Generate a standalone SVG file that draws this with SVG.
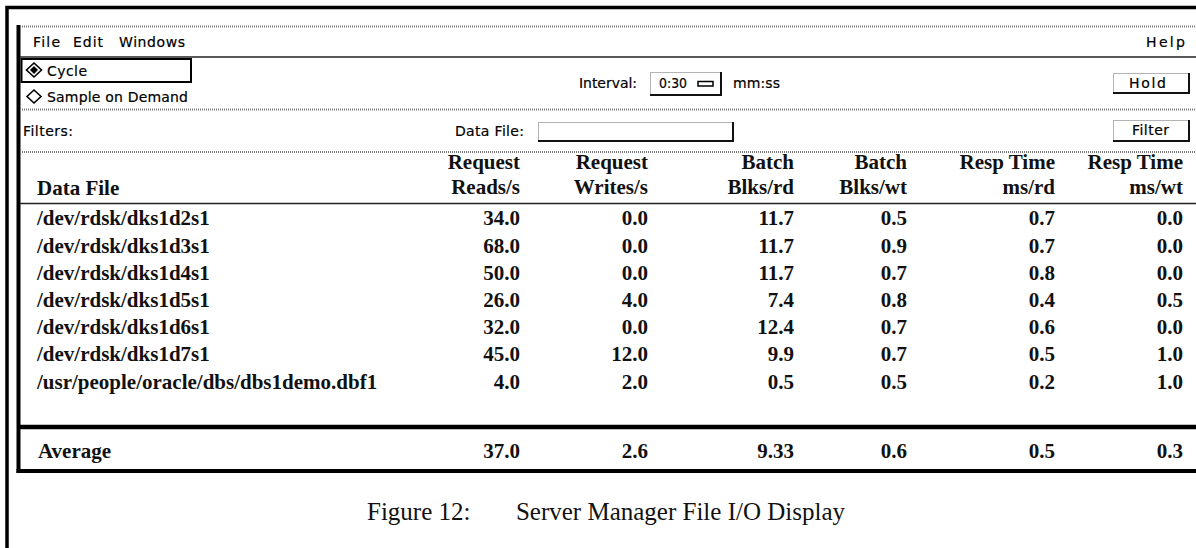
<svg xmlns="http://www.w3.org/2000/svg" width="1196" height="548" viewBox="0 0 1196 548">
  <style>
    .ui{font-family:"DejaVu Sans","Liberation Sans",Arial,sans-serif;font-size:14px;fill:#000;stroke:#000;stroke-width:0.2}
    .tb{font-family:"Liberation Serif","Times New Roman",serif;font-size:21px;font-weight:bold;fill:#111}
    .r{text-anchor:end}
    .cap{font-family:"Liberation Serif","Times New Roman",serif;font-size:25px;fill:#111}
    .dot{stroke:#7a7a7a;stroke-width:2;stroke-dasharray:1 1;fill:none}
    .solid{stroke:#222;stroke-width:1.6;fill:none}
    .btn{fill:#fff;stroke:#666;stroke-width:1;stroke-dasharray:1 1}
    .shade{stroke:#111;stroke-width:2;fill:none}
  </style>

  <rect width="1196" height="548" fill="#fff"/>

  <!-- page frame -->
  <path d="M7 548 V7.5 H1196" fill="none" stroke="#000" stroke-width="3.5"/>

  <!-- window left edge -->
  <line x1="18.5" y1="25" x2="18.5" y2="473" stroke="#000" stroke-width="4"/>

  <!-- menu bar -->
  <g id="menubar">
    <line class="dot" x1="20" y1="26.5" x2="1196" y2="26.5"/>
    <line class="solid" x1="20" y1="57" x2="1196" y2="57"/>
    <text class="ui" x="33" y="47" textLength="27" lengthAdjust="spacing">File</text>
    <text class="ui" x="73" y="47" textLength="30" lengthAdjust="spacing">Edit</text>
    <text class="ui" x="119" y="47" textLength="66" lengthAdjust="spacing">Windows</text>
    <text class="ui" x="1146" y="47" textLength="39" lengthAdjust="spacing">Help</text>
  </g>

  <!-- sampling mode and interval -->
  <g id="controls">
    <rect x="21.5" y="59" width="169.5" height="23" fill="none" stroke="#000" stroke-width="2"/>
    <polygon points="34,63 41.5,70 34,77 26.5,70" fill="#fff" stroke="#000" stroke-width="1.6"/>
    <polygon points="34,66 38,70 34,74 30,70" fill="#000"/>
    <text class="ui" x="47" y="76" textLength="40" lengthAdjust="spacing">Cycle</text>
    <polygon points="34,90 41,96.5 34,103 27,96.5" fill="#fff" stroke="#000" stroke-width="1.6"/>
    <text class="ui" x="47" y="102" textLength="141" lengthAdjust="spacing">Sample on Demand</text>
    <line class="dot" x1="20" y1="109.5" x2="1196" y2="109.5"/>

    <text class="ui" x="579" y="88" textLength="58" lengthAdjust="spacing">Interval:</text>
    <rect class="btn" x="650.5" y="72.5" width="70" height="22"/>
    <path class="shade" d="M721 72 V95 H650"/>
    <text class="ui" x="659" y="88" textLength="28" lengthAdjust="spacingAndGlyphs">0:30</text>
    <rect x="698" y="81.5" width="15" height="4.5" fill="#fff" stroke="#000" stroke-width="1.5"/>
    <text class="ui" x="733" y="88" textLength="47" lengthAdjust="spacing">mm:ss</text>

    <rect class="btn" x="1113.5" y="73.5" width="75" height="19"/>
    <path class="shade" d="M1189 73 V93 H1113"/>
    <text class="ui" x="1129" y="87.5" textLength="37" lengthAdjust="spacing">Hold</text>
  </g>

  <!-- filter row -->
  <g id="filters">
    <text class="ui" x="23" y="136" textLength="50" lengthAdjust="spacing">Filters:</text>
    <text class="ui" x="455" y="136" textLength="69" lengthAdjust="spacing">Data File:</text>
    <rect class="btn" x="538.5" y="122.5" width="194" height="18"/>
    <path class="shade" d="M733 122 V141 H538" stroke-width="1.5"/>
    <rect class="btn" x="1113.5" y="120.5" width="75" height="20"/>
    <path class="shade" d="M1189 120 V141 H1113"/>
    <text class="ui" x="1132" y="135" textLength="37" lengthAdjust="spacing">Filter</text>
    <line class="dot" x1="20" y1="152" x2="1196" y2="152"/>
  </g>

  <!-- data table -->
  <g id="table">
    <g id="header">
      <text class="tb" x="37" y="195">Data File</text>
      <text class="tb r" x="520" y="169">Request</text>
      <text class="tb r" x="520" y="194">Reads/s</text>
      <text class="tb r" x="648" y="169">Request</text>
      <text class="tb r" x="648" y="194">Writes/s</text>
      <text class="tb r" x="794" y="169">Batch</text>
      <text class="tb r" x="794" y="194">Blks/rd</text>
      <text class="tb r" x="907" y="169">Batch</text>
      <text class="tb r" x="907" y="194">Blks/wt</text>
      <text class="tb r" x="1055" y="169">Resp Time</text>
      <text class="tb r" x="1055" y="194">ms/rd</text>
      <text class="tb r" x="1183" y="169">Resp Time</text>
      <text class="tb r" x="1183" y="194">ms/wt</text>
    </g>
    <line class="solid" x1="20" y1="203.5" x2="1196" y2="203.5"/>

    <g id="rows">
      <text class="tb" x="37" y="225">/dev/rdsk/dks1d2s1</text>
      <text class="tb r" x="520" y="225">34.0</text>
      <text class="tb r" x="648" y="225">0.0</text>
      <text class="tb r" x="794" y="225">11.7</text>
      <text class="tb r" x="907" y="225">0.5</text>
      <text class="tb r" x="1055" y="225">0.7</text>
      <text class="tb r" x="1183" y="225">0.0</text>

      <text class="tb" x="37" y="252.5">/dev/rdsk/dks1d3s1</text>
      <text class="tb r" x="520" y="252.5">68.0</text>
      <text class="tb r" x="648" y="252.5">0.0</text>
      <text class="tb r" x="794" y="252.5">11.7</text>
      <text class="tb r" x="907" y="252.5">0.9</text>
      <text class="tb r" x="1055" y="252.5">0.7</text>
      <text class="tb r" x="1183" y="252.5">0.0</text>

      <text class="tb" x="37" y="279.5">/dev/rdsk/dks1d4s1</text>
      <text class="tb r" x="520" y="279.5">50.0</text>
      <text class="tb r" x="648" y="279.5">0.0</text>
      <text class="tb r" x="794" y="279.5">11.7</text>
      <text class="tb r" x="907" y="279.5">0.7</text>
      <text class="tb r" x="1055" y="279.5">0.8</text>
      <text class="tb r" x="1183" y="279.5">0.0</text>

      <text class="tb" x="37" y="306.5">/dev/rdsk/dks1d5s1</text>
      <text class="tb r" x="520" y="306.5">26.0</text>
      <text class="tb r" x="648" y="306.5">4.0</text>
      <text class="tb r" x="794" y="306.5">7.4</text>
      <text class="tb r" x="907" y="306.5">0.8</text>
      <text class="tb r" x="1055" y="306.5">0.4</text>
      <text class="tb r" x="1183" y="306.5">0.5</text>

      <text class="tb" x="37" y="334">/dev/rdsk/dks1d6s1</text>
      <text class="tb r" x="520" y="334">32.0</text>
      <text class="tb r" x="648" y="334">0.0</text>
      <text class="tb r" x="794" y="334">12.4</text>
      <text class="tb r" x="907" y="334">0.7</text>
      <text class="tb r" x="1055" y="334">0.6</text>
      <text class="tb r" x="1183" y="334">0.0</text>

      <text class="tb" x="37" y="361">/dev/rdsk/dks1d7s1</text>
      <text class="tb r" x="520" y="361">45.0</text>
      <text class="tb r" x="648" y="361">12.0</text>
      <text class="tb r" x="794" y="361">9.9</text>
      <text class="tb r" x="907" y="361">0.7</text>
      <text class="tb r" x="1055" y="361">0.5</text>
      <text class="tb r" x="1183" y="361">1.0</text>

      <text class="tb" x="37" y="388.5">/usr/people/oracle/dbs/dbs1demo.dbf1</text>
      <text class="tb r" x="520" y="388.5">4.0</text>
      <text class="tb r" x="648" y="388.5">2.0</text>
      <text class="tb r" x="794" y="388.5">0.5</text>
      <text class="tb r" x="907" y="388.5">0.5</text>
      <text class="tb r" x="1055" y="388.5">0.2</text>
      <text class="tb r" x="1183" y="388.5">1.0</text>
    </g>

    <!-- summary row -->
    <g id="average">
      <line x1="17" y1="427" x2="1196" y2="427" stroke="#000" stroke-width="4.5"/>
      <text class="tb" x="38" y="458">Average</text>
      <text class="tb r" x="520" y="458">37.0</text>
      <text class="tb r" x="648" y="458">2.6</text>
      <text class="tb r" x="794" y="458">9.33</text>
      <text class="tb r" x="907" y="458">0.6</text>
      <text class="tb r" x="1055" y="458">0.5</text>
      <text class="tb r" x="1183" y="458">0.3</text>
      <line x1="16.5" y1="471" x2="1196" y2="471" stroke="#000" stroke-width="4"/>
    </g>
  </g>

  <!-- caption -->
  <g id="caption">
    <text class="cap" x="367" y="520">Figure 12:</text>
    <text class="cap r" x="845" y="520">Server Manager File I/O Display</text>
  </g>
</svg>
